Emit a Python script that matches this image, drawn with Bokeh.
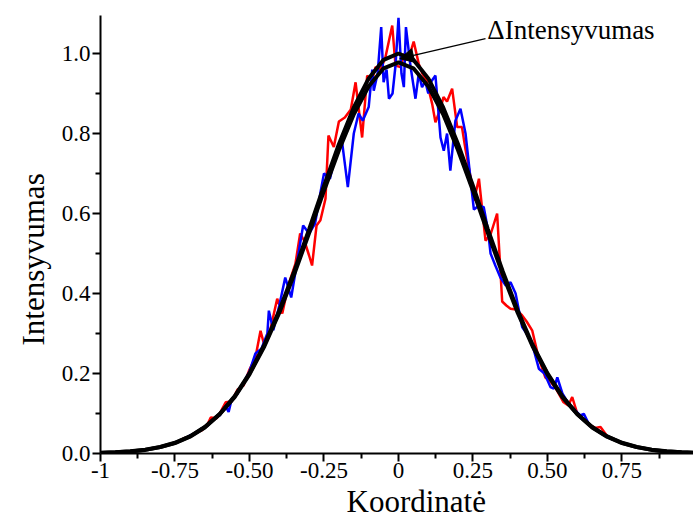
from bokeh.plotting import figure
from bokeh.models import FixedTicker, Range1d, Label, Arrow, NormalHead, Title
from bokeh.embed import file_html
from bokeh.resources import INLINE

# ---- data ----
x_ticks = [-1, -0.75, -0.5, -0.25, 0, 0.25, 0.5, 0.75]
x_tick_labels = ["-1", "-0.75", "-0.50", "-0.25", "0", "0.25", "0.50", "0.75"]
x_minor = [-0.875, -0.625, -0.375, -0.125, 0.125, 0.375, 0.625, 0.875]
y_ticks = [0.0, 0.2, 0.4, 0.6, 0.8, 1.0]
y_tick_labels = ["0.0", "0.2", "0.4", "0.6", "0.8", "1.0"]
y_minor = [0.1, 0.3, 0.5, 0.7, 0.9]

# fitted (smooth) curves
fit_x = [-1.0, -0.95, -0.9, -0.85, -0.8, -0.75, -0.7, -0.65, -0.6, -0.55, -0.5,
         -0.45, -0.4, -0.35, -0.3, -0.25, -0.2, -0.15, -0.1, -0.05, 0.0,
         0.05, 0.1, 0.15, 0.2, 0.25, 0.3, 0.35, 0.4, 0.45, 0.5,
         0.55, 0.6, 0.65, 0.7, 0.75, 0.8, 0.85, 0.9, 0.95, 1.0]
fit_upper = [0.0016, 0.0030, 0.0055, 0.0096, 0.0163, 0.0269, 0.0428, 0.0661, 0.0988, 0.1429, 0.2003,
             0.2719, 0.3573, 0.4549, 0.5605, 0.6691, 0.7733, 0.8653, 0.9377, 0.9841, 1.0,
             0.9841, 0.9377, 0.8653, 0.7733, 0.6691, 0.5605, 0.4549, 0.3573, 0.2719, 0.2003,
             0.1429, 0.0988, 0.0661, 0.0428, 0.0269, 0.0163, 0.0096, 0.0055, 0.0030, 0.0016]
fit_lower = [0.0015, 0.003, 0.005, 0.009, 0.016, 0.026, 0.042, 0.065, 0.098, 0.141, 0.198,
             0.268, 0.352, 0.448, 0.551, 0.657, 0.758, 0.848, 0.918, 0.963, 0.978,
             0.963, 0.918, 0.848, 0.758, 0.657, 0.551, 0.448, 0.352, 0.268, 0.198,
             0.141, 0.098, 0.065, 0.042, 0.026, 0.016, 0.009, 0.005, 0.003, 0.0015]

# measured profile (blue)
blue_x = [-0.74, -0.72, -0.70, -0.68, -0.66, -0.64, -0.62, -0.60, -0.58, -0.57,
          -0.56, -0.54, -0.52, -0.50, -0.48, -0.46, -0.44, -0.435, -0.42, -0.40,
          -0.38, -0.36, -0.34, -0.32, -0.30, -0.28, -0.26, -0.25, -0.23, -0.21,
          -0.19, -0.17, -0.15, -0.134, -0.12, -0.10, -0.088, -0.083, -0.07, -0.058,
          -0.05, -0.04, -0.032, -0.02, -0.01, 0.0, 0.01, 0.018, 0.025, 0.04,
          0.057, 0.068, 0.079, 0.09, 0.10, 0.11, 0.124, 0.141, 0.152, 0.163,
          0.174, 0.191, 0.208, 0.225, 0.247, 0.253, 0.27, 0.286, 0.30, 0.309,
          0.325, 0.342, 0.36, 0.376, 0.393, 0.415, 0.43, 0.45, 0.471, 0.49,
          0.51, 0.521, 0.533, 0.55, 0.57, 0.59, 0.61, 0.622, 0.64, 0.66,
          0.68, 0.70, 0.72]
blue_y = [0.030, 0.036, 0.045, 0.050, 0.063, 0.070, 0.087, 0.095, 0.118, 0.104,
          0.135, 0.150, 0.178, 0.205, 0.250, 0.262, 0.300, 0.357, 0.308, 0.370,
          0.440, 0.390, 0.480, 0.570, 0.550, 0.575, 0.660, 0.700, 0.687, 0.750,
          0.783, 0.666, 0.800, 0.850, 0.832, 0.866, 0.960, 0.907, 0.950, 1.066,
          0.928, 0.960, 0.887, 0.900, 0.970, 1.089, 0.950, 0.916, 1.066, 0.970,
          0.887, 0.950, 0.916, 0.930, 0.900, 0.930, 0.945, 0.790, 0.757, 0.800,
          0.707, 0.832, 0.862, 0.800, 0.650, 0.610, 0.620, 0.616, 0.560, 0.500,
          0.470, 0.440, 0.420, 0.428, 0.400, 0.316, 0.300, 0.270, 0.212, 0.200,
          0.166, 0.162, 0.190, 0.150, 0.125, 0.110, 0.095, 0.099, 0.072, 0.060,
          0.050, 0.042, 0.035]

# measured profile (red)
red_x = [-0.74, -0.72, -0.70, -0.68, -0.66, -0.64, -0.63, -0.61, -0.60, -0.58,
         -0.56, -0.54, -0.52, -0.50, -0.48, -0.463, -0.45, -0.43, -0.407, -0.39,
         -0.37, -0.346, -0.33, -0.315, -0.30, -0.29, -0.275, -0.262, -0.245, -0.235,
         -0.217, -0.20, -0.18, -0.16, -0.144, -0.122, -0.105, -0.09, -0.077, -0.06,
         -0.044, -0.021, -0.01, 0.007, 0.02, 0.035, 0.051, 0.068, 0.08, 0.095,
         0.113, 0.124, 0.14, 0.151, 0.163, 0.18, 0.197, 0.213, 0.225, 0.242,
         0.253, 0.27, 0.292, 0.31, 0.331, 0.348, 0.362, 0.376, 0.395, 0.415,
         0.43, 0.449, 0.47, 0.493, 0.51, 0.53, 0.554, 0.57, 0.583, 0.60,
         0.62, 0.64, 0.66, 0.678, 0.70, 0.72]
red_y = [0.028, 0.038, 0.042, 0.052, 0.058, 0.074, 0.090, 0.088, 0.100, 0.128,
         0.130, 0.160, 0.170, 0.210, 0.240, 0.307, 0.270, 0.310, 0.387, 0.350,
         0.420, 0.474, 0.550, 0.530, 0.495, 0.470, 0.570, 0.583, 0.637, 0.795,
         0.766, 0.830, 0.840, 0.860, 0.928, 0.790, 0.945, 0.930, 0.966, 0.960,
         0.990, 1.070, 0.970, 0.966, 1.000, 0.990, 1.030, 0.974, 0.950, 0.930,
         0.874, 0.828, 0.860, 0.891, 0.880, 0.912, 0.816, 0.816, 0.760, 0.690,
         0.632, 0.687, 0.532, 0.550, 0.600, 0.380, 0.370, 0.362, 0.360, 0.345,
         0.330, 0.307, 0.240, 0.190, 0.180, 0.160, 0.128, 0.120, 0.141, 0.100,
         0.086, 0.072, 0.064, 0.066, 0.044, 0.036]

x_title = "Koordinatė"
y_title = "Intensyvumas"
annot_text = "\u0394Intensyvumas"

# ---- figure ----
FONT = "'Liberation Serif', 'Times New Roman', serif"
p = figure(width=693, height=519, output_backend="svg", toolbar_location=None,
           x_range=Range1d(-1, 0.99), y_range=Range1d(0, 1.095),
           min_border_left=100, min_border_right=0, min_border_top=15,
           min_border_bottom=66)
p.xgrid.visible = False
p.ygrid.visible = False
p.outline_line_color = None
p.background_fill_color = "white"
p.border_fill_color = "white"

p.line(red_x, red_y, line_color="#ff0000", line_width=2.5)
p.line(blue_x, blue_y, line_color="#0000ff", line_width=2.5)
p.line(fit_x, fit_upper, line_color="black", line_width=4)
p.line(fit_x, fit_lower, line_color="black", line_width=4)

p.add_layout(Arrow(end=NormalHead(size=14, fill_color="black", line_color="black"),
                   x_start=0.292, y_start=1.037, x_end=0.004, y_end=0.987,
                   line_color="black", line_width=1.3))
p.add_layout(Label(x=0.298, y=1.058, text=annot_text,
                   text_font=FONT, text_font_size="27px", text_baseline="middle",
                   text_color="black"))

p.xaxis.ticker = FixedTicker(ticks=x_ticks, minor_ticks=x_minor)
p.xaxis.major_label_overrides = {t: l for t, l in zip(x_ticks, x_tick_labels)}
p.yaxis.ticker = FixedTicker(ticks=y_ticks, minor_ticks=y_minor)
p.yaxis.major_label_overrides = {t: l for t, l in zip(y_ticks, y_tick_labels)}

for ax in (p.xaxis[0], p.yaxis[0]):
    ax.axis_line_width = 2
    ax.axis_line_color = "black"
    ax.major_tick_line_width = 2
    ax.minor_tick_line_width = 2
    ax.major_tick_line_color = "black"
    ax.minor_tick_line_color = "black"
    ax.major_tick_out = 8
    ax.major_tick_in = 0
    ax.minor_tick_out = 5
    ax.minor_tick_in = 0
    ax.major_label_text_font = FONT
    ax.major_label_text_font_size = "23px"
    ax.major_label_text_color = "black"
p.xaxis.major_label_standoff = 1
p.yaxis.major_label_standoff = 2

# axis titles as side titles (slightly off-centre, as in the original)
p.add_layout(Title(text=x_title, align="left", offset=246, standoff=2,
                   text_font=FONT, text_font_size="31px", text_font_style="normal",
                   text_color="black"), "below")
p.add_layout(Title(text=y_title, align="left", offset=108, standoff=15,
                   text_font=FONT, text_font_size="31px", text_font_style="normal",
                   text_color="black"), "left")

open("out.html", "w").write(file_html(p, INLINE))
